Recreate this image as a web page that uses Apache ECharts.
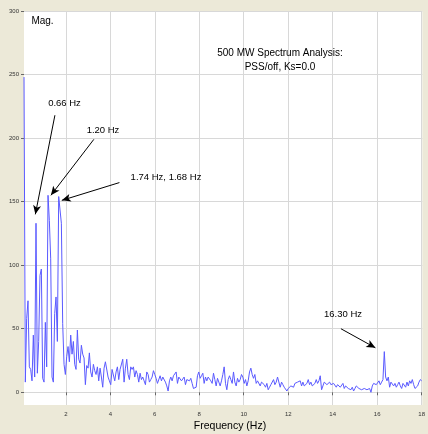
<!DOCTYPE html>
<html>
<head>
<meta charset="utf-8">
<script src="https://cdn.jsdelivr.net/npm/echarts@6/dist/echarts.min.js"></script>
<style>
html,body{margin:0;padding:0;background:#ECE9D8;}
#chart{width:428px;height:434px;}
</style>
</head>
<body>
<div id="chart"></div>
<script>
// ---- Data (magnitude spectrum, bins every 0.06 Hz) ----
const FREQ_STEP = 0.06;

// 0.12 .. 1.98 Hz
const START_A = 0.12;
const magBelow2Hz = [248, 8, 58, 72, 20, 18, 9, 45, 12, 133, 15, 40, 92, 97, 11, 8,
  55, 20, 155, 135, 105, 12, 8, 62, 75, 40, 154, 155, 133, 54, 22, 14];

// 2.04 .. 4.98 Hz
const START_B = 2.04;
const mag2to5Hz = [28, 36, 24, 45, 30, 40, 22, 18, 49, 26,
  23, 37, 30, 27, 6, 21, 19, 31, 16, 12,
  22, 17, 14, 20, 9, 19, 12, 4, 19, 24,
  25, 12, 9, 6, 18, 17, 9, 16, 20, 10,
  18, 17, 26, 8, 19, 26, 14, 10, 20, 18];

// 5.04 .. 9.96 Hz
const START_C = 5.04;
const mag5to10Hz = [20, 12, 17, 14, 8, 15, 10, 12, 9, 6, 16, 14, 8, 10, 12, 17,
  14, 11, 7, 6, 13, 9, 12, 13, 8, 5, 1, 9, 12, 9, 13, 14, 16,
  7, 12, 11, 9, 10, 12, 6, 10, 10, 9, 11, 7, 3, 2, 4, 13, 16,
  11, 13, 15, 7, 12, 9, 12, 13, 9, 7, 15, 10, 5, 11, 12, 5,
  9, 14, 20, 7, 2, 10, 13, 10, 7, 16, 8, 5, 11, 8, 10, 14, 12];

// 10.02 .. 13.98 Hz
const START_D = 10.02;
const mag10to14Hz = [7, 10, 5, 9, 16, 19, 14, 11, 14, 7, 9, 9, 5, 8, 9, 6, 4,
  7, 2, 4, 6, 7, 10, 6, 8, 12, 11, 4, 8, 6, 4, 3, 1,
  3, 4, 5, 5, 4, 7, 6, 8, 9, 9, 5, 8, 5, 4, 7, 10, 6,
  8, 5, 6, 7, 10, 7, 9, 13, 2, 5, 8, 7, 6, 5, 8, 6, 7];

// 14.04 .. 18.00 Hz
const START_E = 14.04;
const mag14to18Hz = [7, 8, 4, 6, 5, 4, 5, 7, 3, 5, 4, 3, 4, 2, 4, 1,
  3, 5, 5, 3, 4, 2, 3, 3, 4, 2, 3, 3, 0, 5, 7, 8, 6,
  5, 9, 6, 8, 10, 32, 12, 9, 12, 4, 8, 7, 5, 7, 4, 6, 8,
  5, 3, 7, 6, 4, 8, 5, 9, 7, 10, 6, 3, 2, 5, 8, 10, 9];

// Axis ticks
const xTicks = [2, 4, 6, 8, 10, 12, 14, 16, 18];
const yTicks = [0, 50, 100, 150, 200, 250, 300];

// Annotation arrows: [from [Hz, Mag], to [Hz, Mag]]
const arrowFrom = [[1.51, 218], [3.26, 199], [4.41, 165], [14.37, 50]];
const arrowTo   = [[0.63, 140], [1.33, 155], [1.82, 151], [15.92, 35]];

// ---- Build ----
const segments = [
  [START_A, magBelow2Hz], [START_B, mag2to5Hz], [START_C, mag5to10Hz],
  [START_D, mag10to14Hz], [START_E, mag14to18Hz]
];
const seriesData = [];
segments.forEach(([start, vals]) => {
  vals.forEach((v, i) => {
    seriesData.push([+(start + i * FREQ_STEP).toFixed(2), v]);
  });
});
const arrows = arrowFrom.map((p, i) => [{coord: p}, {coord: arrowTo[i]}]);

const FONT = 'Liberation Sans, Arial, sans-serif';
const chart = echarts.init(document.getElementById('chart'), null, {renderer: 'canvas'});

function txt(text, x, y, size) {
  return {
    type: 'text', x: x, y: y, z: 10,
    style: {text: text, fill: '#000', font: (size || 10) + 'px ' + FONT,
            align: 'center', verticalAlign: 'middle'}
  };
}

chart.setOption({
  animation: false,
  backgroundColor: '#ECE9D8',
  grid: {left: 24, right: 1, top: 11, bottom: 29, show: true,
         backgroundColor: '#ffffff', borderWidth: 0},
  xAxis: {
    type: 'value', min: 0.12, max: 18.03,
    axisLine: {show: false},
    axisTick: {show: true, length: 3, customValues: xTicks, lineStyle: {color: '#666'}},
    axisLabel: {customValues: xTicks, fontSize: 6, color: '#333', margin: 6, fontFamily: FONT},
    splitLine: {show: true, lineStyle: {color: '#d8d8d8', width: 1}}
  },
  yAxis: {
    type: 'value', min: -10, max: 300,
    axisLine: {show: false},
    axisTick: {show: true, length: 3, customValues: yTicks, lineStyle: {color: '#666'}},
    axisLabel: {customValues: yTicks, fontSize: 6, color: '#333', margin: 5, fontFamily: FONT},
    splitLine: {show: true, lineStyle: {color: '#d8d8d8', width: 1}}
  },
  series: [{
    type: 'line',
    data: seriesData,
    showSymbol: false,
    symbol: 'none',
    clip: false,
    lineStyle: {color: '#5a5aff', width: 1},
    z: 3,
    markLine: {
      silent: true,
      symbol: ['none', 'arrow'],
      symbolSize: [6, 9],
      label: {show: false},
      lineStyle: {color: '#000', width: 1, type: 'solid'},
      emphasis: {disabled: true},
      data: arrows
    }
  }],
  graphic: [
    txt('Mag.', 42.5, 21, 10),
    txt('500 MW Spectrum Analysis:', 280, 53, 10),
    txt('PSS/off, Ks=0.0', 280, 67, 10),
    txt('0.66 Hz', 64.5, 103, 9.5),
    txt('1.20 Hz', 103, 130, 9.5),
    txt('1.74 Hz, 1.68 Hz', 166, 177, 9.5),
    txt('16.30 Hz', 343, 314, 9.5),
    txt('Frequency (Hz)', 230, 426, 10.5)
  ]
});
</script>
</body>
</html>
